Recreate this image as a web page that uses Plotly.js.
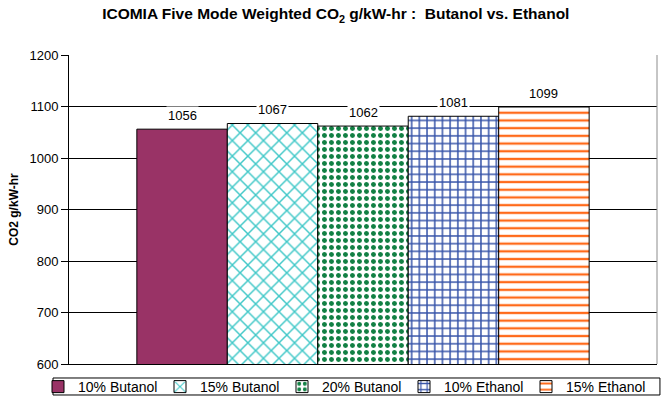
<!DOCTYPE html>
<html>
<head>
<meta charset="utf-8">
<script src="https://cdn.plot.ly/plotly-3.0.1.min.js"></script>
<style>html,body{margin:0;padding:0;background:#fff;}#chart{width:661px;height:400px;}</style>
</head>
<body>
<div id="chart"></div>
<script>
// ---- data ----
const categories = ['10% Butanol', '15% Butanol', '20% Butanol', '10% Ethanol', '15% Ethanol'];
const co2Values = [1056, 1067, 1062, 1081, 1099];
const yTickValues = [600, 700, 800, 900, 1000, 1100, 1200];

// ---- styles ----
const fillColors = ['#993366', '#ffffff', '#ffffff', '#ffffff', '#ffffff'];
const patternShapes = ['', 'x', '.', '+', '-'];
const patternColors = ['#993366', '#40c8c8', '#128044', '#3552a8', '#ff6a1a'];
const patternSizes = [8, 11, 7, 7.7, 7.7];
const patternSolidity = [0.3, 0.25, 0.4, 0.35, 0.3];

const FONT = 'Liberation Sans, Arial, sans-serif';

const traces = categories.map((name, i) => ({
  type: 'bar',
  name: name,
  x: [i],
  y: [co2Values[i]],
  width: 1,
  marker: {
    color: fillColors[i],
    line: {color: '#000000', width: 1},
    pattern: patternShapes[i] ? {
      shape: patternShapes[i],
      fgcolor: patternColors[i],
      bgcolor: '#ffffff',
      fgopacity: 1,
      size: patternSizes[i],
      solidity: patternSolidity[i],
      fillmode: 'replace'
    } : undefined
  },
  hoverinfo: 'skip'
}));

const annotations = categories.map((name, i) => ({
  x: i,
  y: co2Values[i],
  xref: 'x',
  yref: 'y',
  text: String(co2Values[i]),
  showarrow: false,
  yanchor: 'middle',
  yshift: 14,
  bgcolor: '#ffffff',
  borderpad: 1,
  font: {family: FONT, size: 13, color: '#000000'}
}));

const layout = {
  width: 661,
  height: 400,
  margin: {l: 69, r: 4, t: 55, b: 36, autoexpand: false},
  paper_bgcolor: '#ffffff',
  plot_bgcolor: '#ffffff',
  font: {family: FONT, size: 13, color: '#000000'},
  title: {
    text: 'ICOMIA Five Mode Weighted CO<sub>2</sub> g/kW-hr :  Butanol vs. Ethanol',
    font: {family: FONT, size: 15.5, weight: 700, color: '#000000'},
    x: 0.508,
    xanchor: 'center',
    y: 0.965,
    yanchor: 'middle'
  },
  barmode: 'overlay',
  xaxis: {
    range: [-1.25, 5.25],
    showticklabels: false,
    showgrid: false,
    zeroline: false,
    showline: true,
    linecolor: '#000000',
    linewidth: 1,
    ticks: '',
    fixedrange: true
  },
  yaxis: {
    range: [600, 1200],
    tickvals: yTickValues,
    ticktext: yTickValues.map(String),
    ticks: 'outside',
    ticklen: 7,
    tickcolor: '#000000',
    showline: true,
    linecolor: '#000000',
    linewidth: 1,
    showgrid: true,
    gridcolor: '#000000',
    gridwidth: 1,
    zeroline: false,
    tickfont: {family: FONT, size: 13, color: '#000000'},
    title: {
      text: 'CO2 g/kW-hr',
      font: {family: FONT, size: 12, weight: 700, color: '#000000'},
      standoff: 8
    },
    fixedrange: true
  },
  showlegend: true,
  legend: {
    orientation: 'h',
    x: -0.0527,
    xanchor: 'left',
    y: -0.0227,
    yanchor: 'top',
    bgcolor: 'rgba(0,0,0,0)',
    borderwidth: 0,
    entrywidth: 77,
    entrywidthmode: 'pixels',
    traceorder: 'normal',
    font: {family: FONT, size: 14, color: '#000000'}
  },
  annotations: annotations,
  shapes: [
    {type: 'line', xref: 'paper', yref: 'paper', x0: 1, x1: 1, y0: 0, y1: 1,
     line: {color: '#8c8c8c', width: 1}, layer: 'above'},
    {type: 'rect', xref: 'paper', yref: 'paper', x0: -0.0272, x1: 1.005, y0: -0.0453, y1: -0.1003,
     line: {color: '#000000', width: 1}, fillcolor: 'rgba(0,0,0,0)', layer: 'above'}
  ]
};

Plotly.newPlot('chart', traces, layout, {displayModeBar: false, staticPlot: true});
</script>
</body>
</html>
